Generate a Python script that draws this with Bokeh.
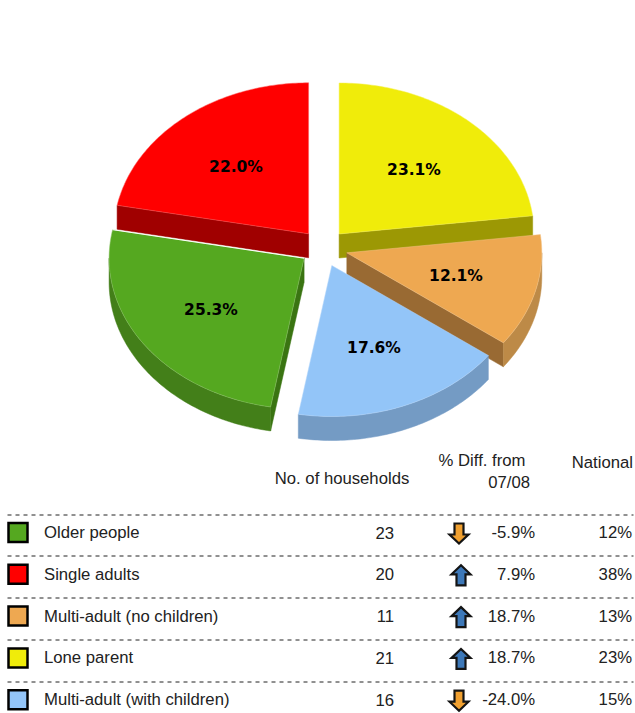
import math
from bokeh.plotting import figure
from bokeh.models import Range1d, ColumnDataSource
from bokeh.core.properties import value
from bokeh.embed import file_html
from bokeh.resources import INLINE

categories = ["Older people", "Single adults", "Multi-adult (no children)", "Lone parent", "Multi-adult (with children)"]
households = [23, 20, 11, 21, 16]
diffs = [-5.9, 7.9, 18.7, 18.7, -24.0]
national = [12, 38, 13, 23, 15]

pie_names = ["Lone parent", "Multi-adult (no children)", "Multi-adult (with children)", "Older people", "Single adults"]
pie_shares = [23.1, 12.1, 17.6, 25.3, 22.0]

top_color = {"Lone parent": "#f0ec0a", "Multi-adult (no children)": "#eea851", "Multi-adult (with children)": "#93c5f8",
             "Older people": "#55a820", "Single adults": "#ff0000"}
edge_color = {"Lone parent": "#f4f15a", "Multi-adult (no children)": "#f3c387", "Multi-adult (with children)": "#b4d7fa",
              "Older people": "#8cc468", "Single adults": "#ff6060"}
cut_color = {"Lone parent": "#9c9804", "Multi-adult (no children)": "#996a33", "Multi-adult (with children)": "#749bc4",
             "Older people": "#3a7412", "Single adults": "#a00000"}
rim_color = {"Lone parent": "#9c9804", "Multi-adult (no children)": "#bd8a47", "Multi-adult (with children)": "#749bc4",
             "Older people": "#437f19", "Single adults": "#a00000"}
apex = {"Lone parent": (338.6, 233.5), "Multi-adult (no children)": (346.3, 252.3), "Multi-adult (with children)": (331.3, 265),
        "Older people": (303.6, 257.7), "Single adults": (308.1, 233.3)}
label_pos = {"Lone parent": (413.5, 169), "Multi-adult (no children)": (455.5, 275), "Multi-adult (with children)": (373.5, 347),
             "Older people": (210.5, 309), "Single adults": (235.5, 166)}
RX, RY, DEPTH = 195, 151, 24

p = figure(width=635, height=713, output_backend="svg", toolbar_location=None,
           x_range=Range1d(0, 635), y_range=Range1d(713, 0), margin=(0, 0, 0, 0), min_border=0)
p.axis.visible = False
p.grid.visible = False
p.outline_line_color = None
p.background_fill_color = "white"

total = sum(pie_shares)
spans = {}
acc = 0.0
for n, s in zip(pie_names, pie_shares):
    spans[n] = (acc / total * 2 * math.pi, (acc + s) / total * 2 * math.pi)
    acc += s


def pt(n, th, dz=0):
    cx, cy = apex[n]
    return cx + RX * math.sin(th), cy - RY * math.cos(th) + dz


def arc(n, a, b, dz=0):
    k = max(2, int(abs(b - a) * 60))
    return [pt(n, a + (b - a) * i / k, dz) for i in range(k + 1)]


def draw(poly, color, line=None):
    p.patch([q[0] for q in poly], [q[1] for q in poly], fill_color=color,
            line_color=line or color, line_width=0.5)


def side(n):
    a, b = spans[n]
    cx, cy = apex[n]
    lo, hi = max(a, math.pi / 2), min(b, 3 * math.pi / 2)
    for th in (a, b):
        q0, q1 = pt(n, th), pt(n, th, DEPTH)
        visible = (th == b and math.sin(th) > 0 and a < math.pi) \
            or (n == "Single adults" and th == a) or (n == "Older people" and th == a)
        if visible:
            draw([(cx, cy), q0, q1, (cx, cy + DEPTH)], cut_color[n])
    if hi > lo:
        draw(arc(n, lo, hi) + arc(n, hi, lo, DEPTH), rim_color[n])


def top(n):
    a, b = spans[n]
    cx, cy = apex[n]
    draw([(cx, cy)] + arc(n, a, b), top_color[n], edge_color[n])
    if n == "Older people":
        q = pt(n, b)
        p.line([cx, q[0]], [cy, q[1]], line_color="white", line_width=1)


for n in ["Lone parent", "Single adults", "Multi-adult (no children)", "Older people", "Multi-adult (with children)"]:
    side(n)
    top(n)

font = value("Liberation Sans")
lab = ColumnDataSource(dict(x=[label_pos[n][0] for n in pie_names], y=[label_pos[n][1] for n in pie_names],
                            t=[f"{s:.1f}%" for s in pie_shares]))
p.text("x", "y", text="t", source=lab, text_font=value("DejaVu Sans"), text_font_style="bold",
       text_font_size="15.5px", text_align="center", text_baseline="middle", text_color="black")

FS = "16.7px"
p.text([341.5], [478], text=["No. of households"], text_font=font, text_font_size=FS, text_align="center",
       text_baseline="middle", text_color="#222222")
p.text([481.5], [460], text=["% Diff. from"], text_font=font, text_font_size=FS, text_align="center",
       text_baseline="middle", text_color="#222222")
p.text([529.5], [482], text=["07/08"], text_font=font, text_font_size=FS, text_align="right",
       text_baseline="middle", text_color="#222222")
p.text([632.5], [462], text=["National"], text_font=font, text_font_size=FS, text_align="right",
       text_baseline="middle", text_color="#222222")

ROW0, STEP = 532, 41.8
rows = [ROW0 + i * STEP for i in range(len(categories))]
for y in rows:
    yl = round(y - 18.5) + 0.5
    p.line([7, 633], [yl, yl], line_color="#222222", line_width=1, line_dash="4 4")

p.rect([17.5] * 5, rows, width=19, height=19, fill_color=[top_color[c] for c in categories], line_color="black",
       line_width=2.5, line_join="miter")


def row_text(xs, texts, align):
    p.text(xs, rows, text=texts, text_font=font, text_font_size=FS, text_align=align,
           text_baseline="middle", text_color="#222222")


row_text([43.5] * 5, categories, "left")
row_text([393.5] * 5, [str(v) for v in households], "right")
row_text([534.5] * 5, [f"{d:.1f}%" for d in diffs], "right")
row_text([631.5] * 5, [f"{v}%" for v in national], "right")

SHAPE_X = [-4.5, 4.5, 4.5, 9.5, 0, -9.5, -4.5]
SHAPE_Y = [-10, -10, 1, 1, 10, 1, 1]
for y, d in zip(rows, diffs):
    up = d > 0
    cx = 460.5 if up else 458.5
    cy = y + 1
    sy = -1 if up else 1
    p.patch([cx + v for v in SHAPE_X], [cy + sy * v for v in SHAPE_Y],
            fill_color="#3d78b8" if up else "#f0a030", line_color="#141414", line_width=2.2, line_join="miter")

open("out.html", "w").write(file_html(p, INLINE))
